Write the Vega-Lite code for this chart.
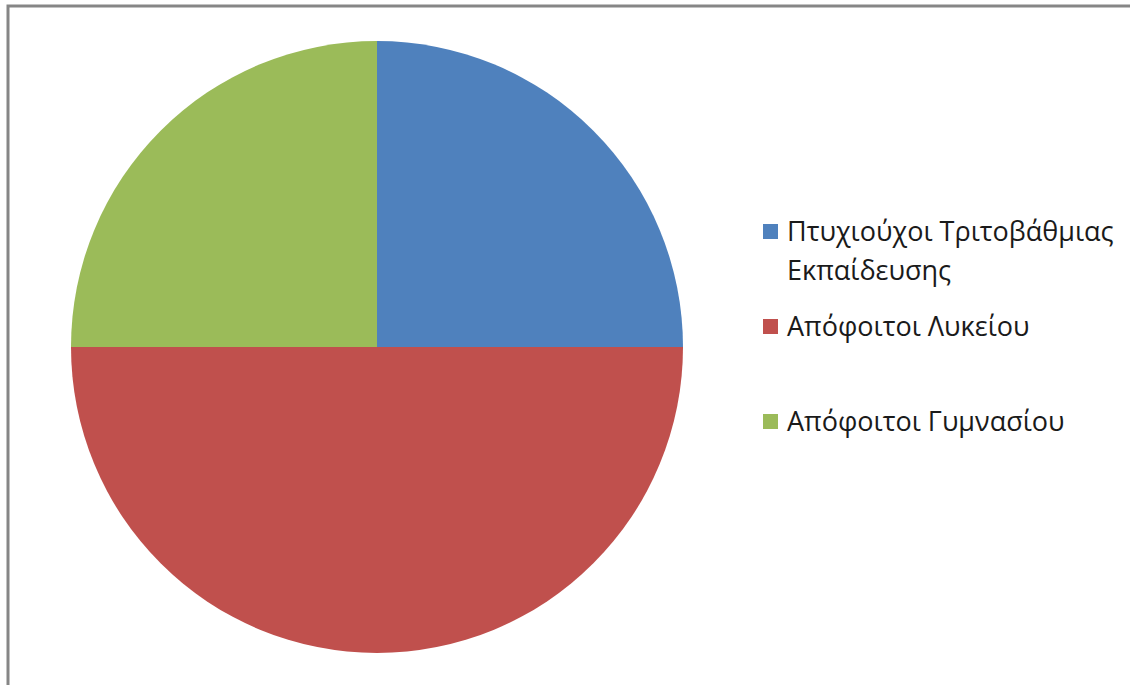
{
  "$schema": "https://vega.github.io/schema/vega-lite/v6.json",
  "width": 1125,
  "height": 682,
  "autosize": {"type": "none"},
  "padding": {"left": 8, "top": 6, "right": 0, "bottom": 0},
  "background": "white",
  "view": {"stroke": "#868686", "strokeWidth": 3},
  "config": {"style": {"guide-label": {"lineHeight": 39, "dy": 1}}},
  "data": {
    "values": [
      {"category": "Πτυχιούχοι Τριτοβάθμιας Εκπαίδευσης", "value": 25, "k": 1},
      {"category": "Απόφοιτοι Λυκείου", "value": 50, "k": 2},
      {"category": "Απόφοιτοι Γυμνασίου", "value": 25, "k": 3}
    ]
  },
  "mark": {"type": "arc", "radius": 306, "x": 369, "stroke": null},
  "encoding": {
    "theta": {"field": "value", "type": "quantitative", "stack": true},
    "order": {"field": "k", "type": "quantitative"},
    "color": {
      "field": "category",
      "type": "nominal",
      "sort": ["Πτυχιούχοι Τριτοβάθμιας Εκπαίδευσης", "Απόφοιτοι Λυκείου", "Απόφοιτοι Γυμνασίου"],
      "scale": {
        "domain": ["Πτυχιούχοι Τριτοβάθμιας Εκπαίδευσης", "Απόφοιτοι Λυκείου", "Απόφοιτοι Γυμνασίου"],
        "range": ["#4F81BD", "#C0504D", "#9BBB59"]
      },
      "legend": {
        "title": null,
        "orient": "none",
        "legendX": 749,
        "legendY": 212,
        "padding": 0,
        "gridAlign": "all",
        "symbolType": "square",
        "symbolSize": 225,
        "symbolStrokeWidth": 0,
        "symbolOpacity": 1,
        "labelFont": "Open Sans",
        "labelFontSize": 27,
        "labelColor": "#1a1a1a",
        "labelOffset": 3,
        "labelLimit": 400,
        "labelBaseline": "middle",
        "rowPadding": 28,
        "labelExpr": "datum.label == 'Πτυχιούχοι Τριτοβάθμιας Εκπαίδευσης' ? ['Πτυχιούχοι Τριτοβάθμιας', 'Εκπαίδευσης'] : datum.label"
      }
    }
  }
}
